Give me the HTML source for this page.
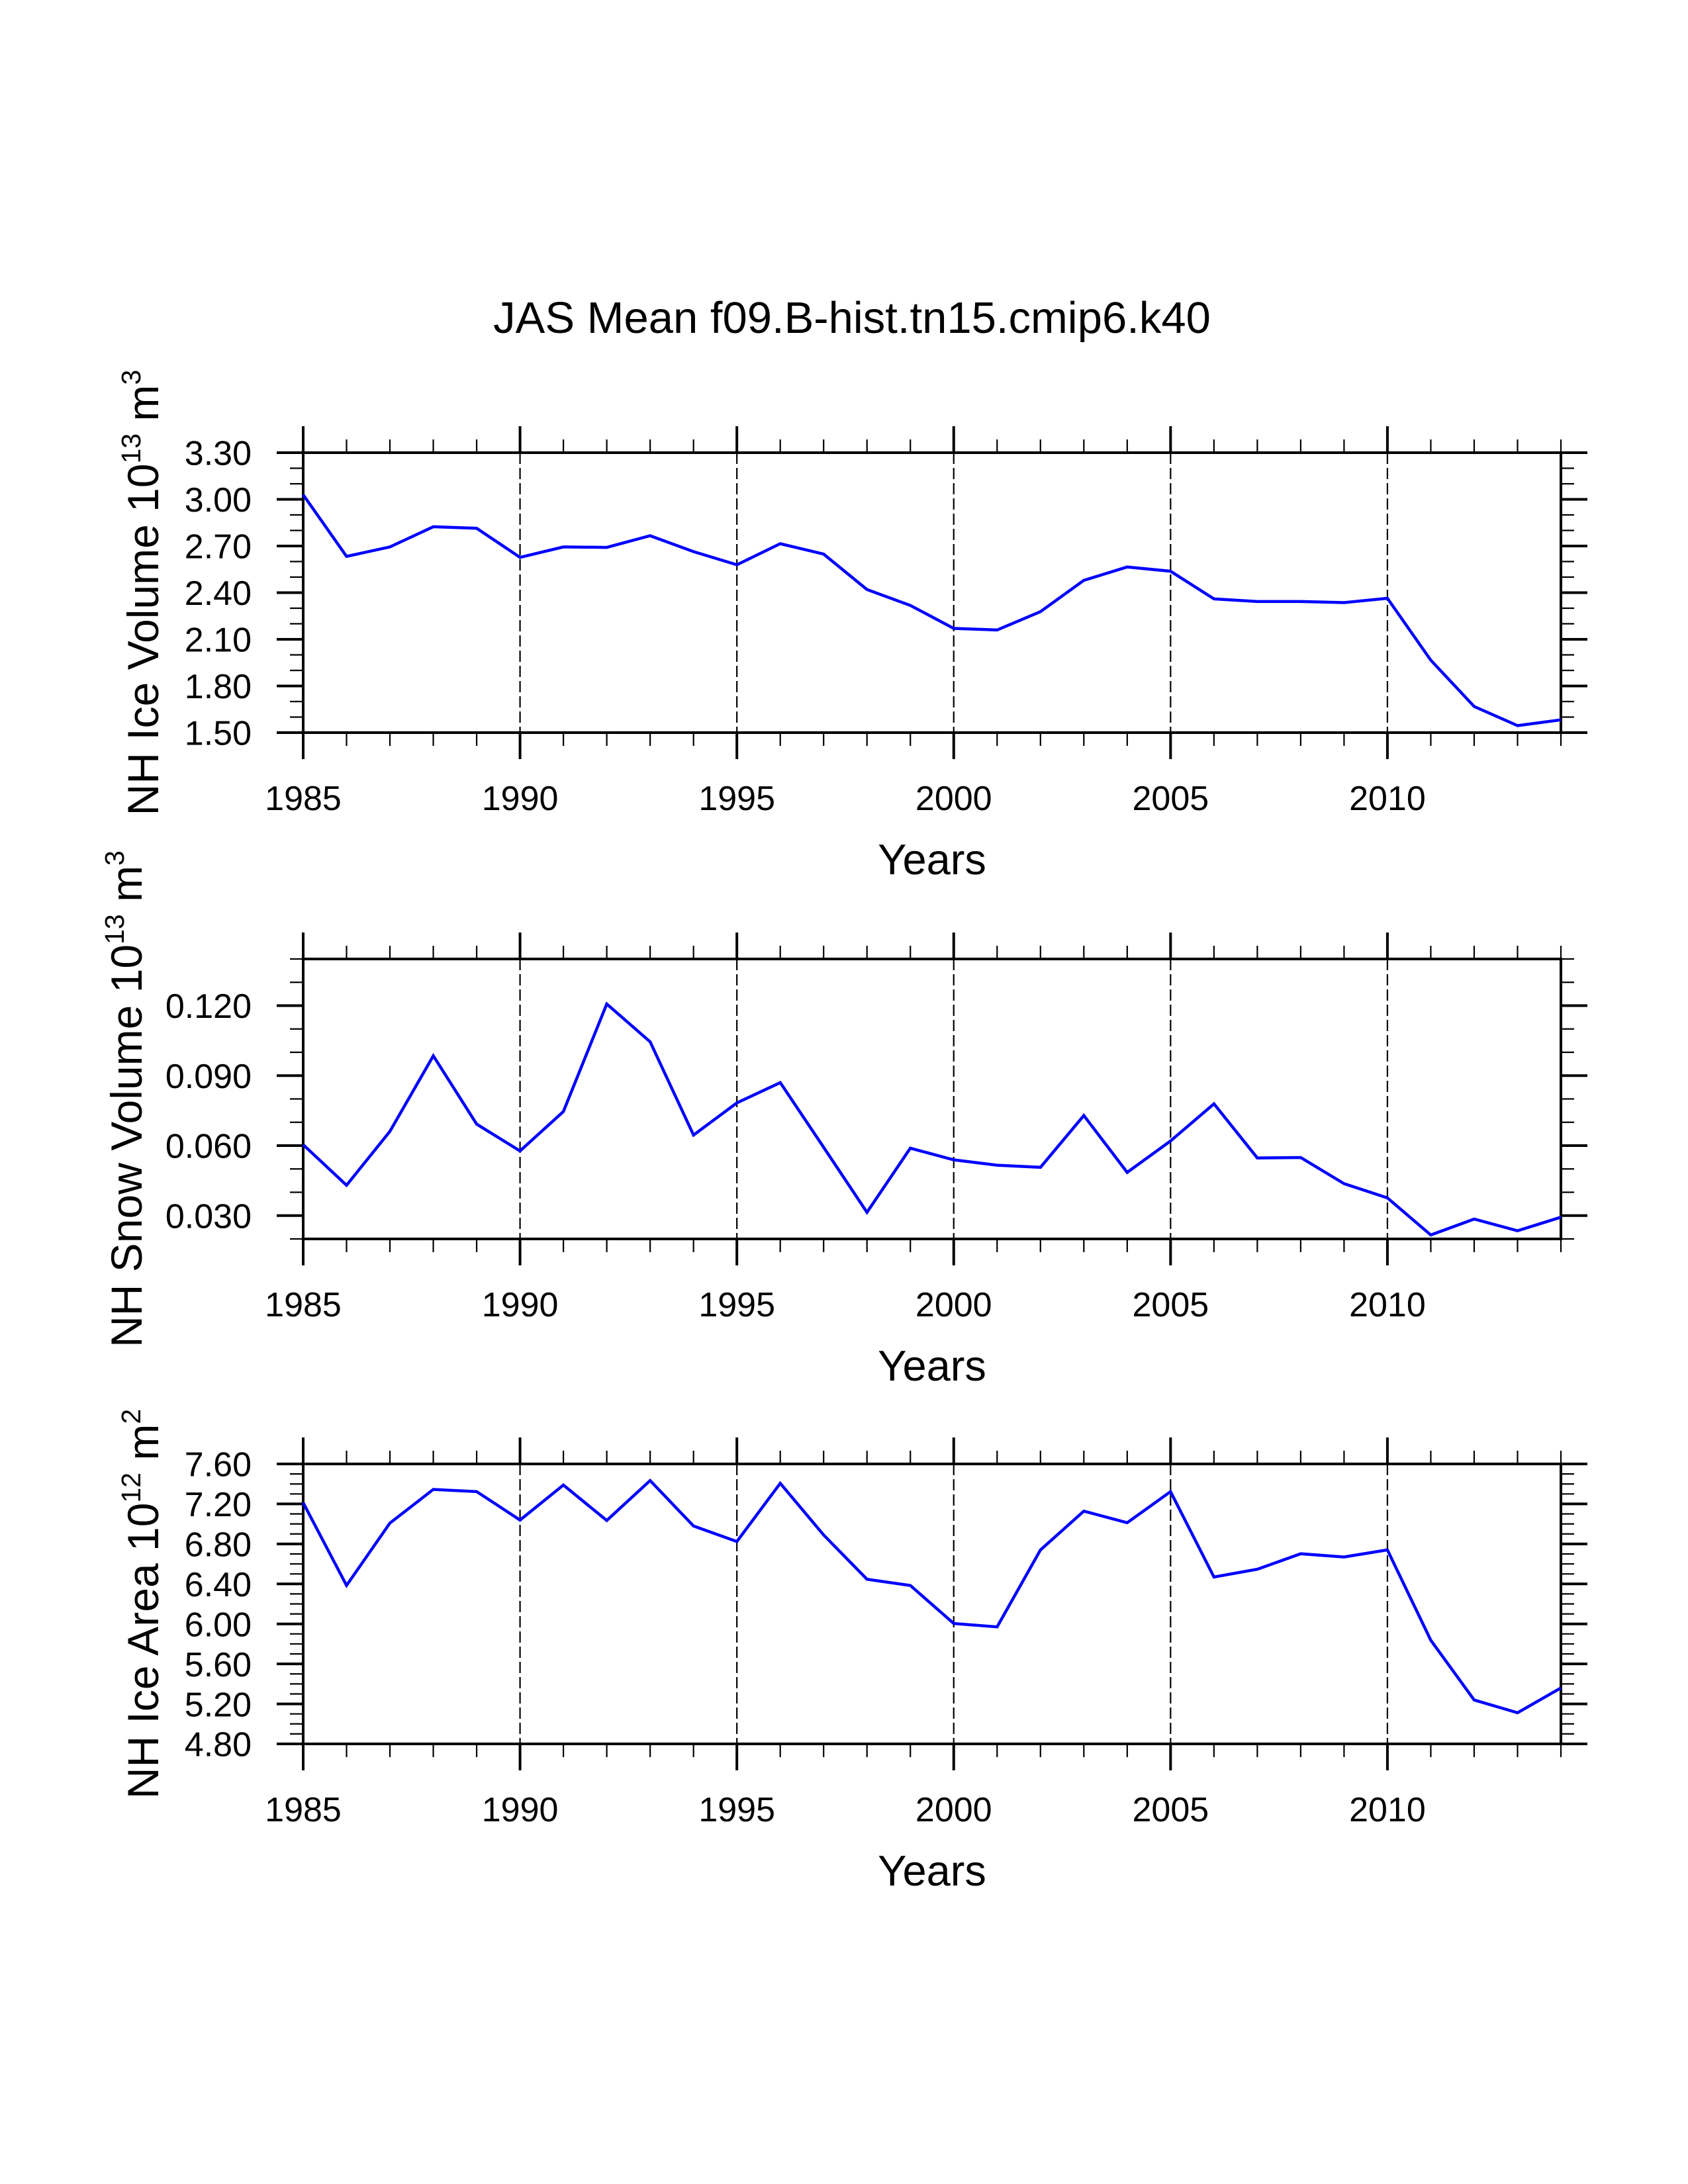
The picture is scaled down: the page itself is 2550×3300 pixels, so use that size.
<!DOCTYPE html>
<html>
<head>
<meta charset="utf-8">
<style>
  html, body { margin: 0; padding: 0; background: #fff; }
  svg { display: block; }
  text { font-family: "Liberation Sans", "DejaVu Sans", sans-serif; fill: #000; }
</style>
</head>
<body>
<svg id="chart" width="2550" height="3300" viewBox="0 0 2550 3300" xmlns="http://www.w3.org/2000/svg">
  <rect x="0" y="0" width="2550" height="3300" fill="#fff"></rect>
  <text x="1287" y="503" font-size="67" text-anchor="middle">JAS Mean f09.B-hist.tn15.cmip6.k40</text>
</svg>
<script>
const years = [1985,1986,1987,1988,1989,1990,1991,1992,1993,1994,1995,1996,1997,1998,1999,2000,2001,2002,2003,2004,2005,2006,2007,2008,2009,2010,2011,2012,2013,2014];
const iceVolume = [3.03,2.633,2.694,2.824,2.814,2.627,2.694,2.691,2.766,2.664,2.579,2.715,2.648,2.42,2.318,2.17,2.16,2.278,2.479,2.565,2.538,2.36,2.343,2.343,2.336,2.364,1.966,1.668,1.545,1.582];
const snowVolume = [0.0604,0.043,0.0661,0.0985,0.0692,0.0577,0.0746,0.1207,0.1045,0.0645,0.0783,0.087,0.0593,0.0314,0.0589,0.0539,0.0516,0.0507,0.0729,0.0485,0.062,0.0779,0.0547,0.0549,0.0437,0.0376,0.0217,0.0285,0.0235,0.0293];
const iceArea = [7.212,6.385,7.008,7.345,7.323,7.039,7.389,7.035,7.434,6.979,6.824,7.407,6.89,6.447,6.385,6.004,5.97,6.74,7.128,7.012,7.323,6.469,6.547,6.702,6.669,6.74,5.837,5.239,5.112,5.36];
const xTickLabels = ["1985","1990","1995","2000","2005","2010"];
const iceVolumeTicks = ["1.50","1.80","2.10","2.40","2.70","3.00","3.30"];
const snowVolumeTicks = ["0.030","0.060","0.090","0.120"];
const iceAreaTicks = ["4.80","5.20","5.60","6.00","6.40","6.80","7.20","7.60"];

const NS = "http://www.w3.org/2000/svg";
const svg = document.getElementById("chart");
const X0 = 458, X1 = 2358;
const xMin = 1985, xMax = 2014;
function xs(v) { return X0 + (v - xMin) / (xMax - xMin) * (X1 - X0); }

function mk(tag, attrs, parent) {
  const e = document.createElementNS(NS, tag);
  for (const k in attrs) e.setAttribute(k, attrs[k]);
  (parent || svg).appendChild(e);
  return e;
}

function panel(cfg) {
  const g = mk("g", {});
  
  
  const top = cfg.top, bot = cfg.top + 423;
  const ys = v => bot - (v - cfg.yMin) / (cfg.yMax - cfg.yMin) * (bot - top);

  for (let yr = 1990; yr <= 2010; yr += 5) {
    const l = mk("line", {x1: xs(yr), x2: xs(yr), y1: top, y2: bot, stroke: "#000", "stroke-width": 2.2, "stroke-dasharray": "17 6"}, g);
    
    
  }

  for (let yr = xMin; yr <= xMax; yr++) {
    const major = (yr % 5 === 0);
    const len = major ? 40 : 20, w = major ? 4 : 2.2;
    const t1 = mk("line", {x1: xs(yr), x2: xs(yr), y1: top, y2: top - len, stroke: "#000", "stroke-width": w}, g);
    
    
    const t2 = mk("line", {x1: xs(yr), x2: xs(yr), y1: bot, y2: bot + len, stroke: "#000", "stroke-width": w}, g);
    
    
  }

  const nMinor = Math.round((cfg.yMax - cfg.yMin) / cfg.minor);
  for (let i = 0; i <= nMinor; i++) {
    const v = cfg.yMin + i * cfg.minor;
    const rel = (v - cfg.majorStart) / cfg.major;
    const major = Math.abs(rel - Math.round(rel)) < 1e-6 && v >= cfg.majorStart - 1e-9;
    const len = major ? 40 : 20, w = major ? 4 : 2.2;
    const y = ys(v);
    const a = mk("line", {x1: X0, x2: X0 - len, y1: y, y2: y, stroke: "#000", "stroke-width": w}, g);
    
    
    const b = mk("line", {x1: X1, x2: X1 + len, y1: y, y2: y, stroke: "#000", "stroke-width": w}, g);
    
    
  }

  const fr = mk("rect", {x: X0, y: top, width: X1 - X0, height: bot - top, fill: "none", stroke: "#000", "stroke-width": 4}, g);
  
  

  cfg.ticks.forEach(lbl => {
    const t = mk("text", {x: 380, y: ys(parseFloat(lbl)), "font-size": 52, "text-anchor": "end", dy: "0.36em"}, g);
    t.textContent = lbl;
    
    
  });

  xTickLabels.forEach(lbl => {
    const t = mk("text", {x: xs(parseFloat(lbl)), y: bot + 117, "font-size": 52, "text-anchor": "middle"}, g);
    t.textContent = lbl;
    
    
  });

  const xt = mk("text", {x: (X0 + X1) / 2, y: bot + 214, "font-size": 65, "text-anchor": "middle"}, g);
  xt.textContent = "Years";
  
  

  const cy = (top + bot) / 2;
  const yt = mk("text", {x: 0, y: 0, "font-size": 66, "text-anchor": "middle", transform: "translate(" + cfg.labelX + "," + cy + ") rotate(-90)"}, g);
  
  
  const s1 = mk("tspan", {}, yt); s1.textContent = cfg.label + " 10";
  const s2 = mk("tspan", {"font-size": 41, dy: -27}, yt); s2.textContent = cfg.exp;
  const s3 = mk("tspan", {dy: 27}, yt); s3.textContent = " m";
  const s4 = mk("tspan", {"font-size": 41, dy: -27}, yt); s4.textContent = cfg.unitExp;

  const pts = years.map((yr, i) => xs(yr).toFixed(1) + "," + ys(cfg.data[i]).toFixed(1)).join(" ");
  const pl = mk("polyline", {points: pts, fill: "none", stroke: "#0000ff", "stroke-width": 4.5, "stroke-linejoin": "miter"}, g);
  
  
}

panel({name: "ice-volume-panel", top: 684, yMin: 1.5, yMax: 3.3, minor: 0.1, major: 0.3, majorStart: 1.5, ticks: iceVolumeTicks, data: iceVolume, label: "NH Ice Volume", exp: "13", unitExp: "3", labelX: 239});
panel({name: "snow-volume-panel", top: 1449, yMin: 0.02, yMax: 0.14, minor: 0.01, major: 0.03, majorStart: 0.03, ticks: snowVolumeTicks, data: snowVolume, label: "NH Snow Volume", exp: "13", unitExp: "3", labelX: 214});
panel({name: "ice-area-panel", top: 2212, yMin: 4.8, yMax: 7.6, minor: 0.1, major: 0.4, majorStart: 4.8, ticks: iceAreaTicks, data: iceArea, label: "NH Ice Area", exp: "12", unitExp: "2", labelX: 239});
</script>
</body>
</html>
